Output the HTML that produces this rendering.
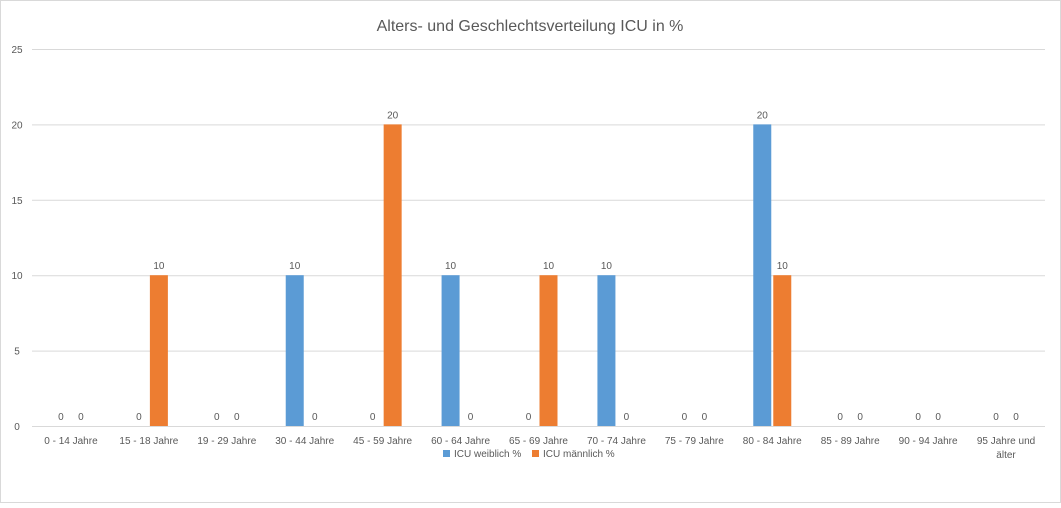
<!DOCTYPE html>
<html><head><meta charset="utf-8"><style>
body{margin:0;background:#fff}
svg text{font-family:"Liberation Sans",sans-serif;fill:#595959}
</style></head><body>
<svg width="1061" height="503">
<rect x="0.5" y="0.5" width="1060" height="502" fill="#fff" stroke="#d9d9d9"/>
<text x="530" y="31" text-anchor="middle" font-size="16">Alters- und Geschlechtsverteilung ICU in %</text>
<g id="grid"></g><g id="bars"></g><g id="labels"></g>
<g>
<rect x="443" y="450" width="7" height="7" fill="#5b9bd5"/>
<text x="454" y="457" font-size="10">ICU weiblich %</text>
<rect x="532" y="450" width="7" height="7" fill="#ed7d31"/>
<text x="543" y="457" font-size="10">ICU männlich %</text>
</g>
</svg>
<script>
const categories=["0 - 14 Jahre","15 - 18 Jahre","19 - 29 Jahre","30 - 44 Jahre","45 - 59 Jahre","60 - 64 Jahre","65 - 69 Jahre","70 - 74 Jahre","75 - 79 Jahre","80 - 84 Jahre","85 - 89 Jahre","90 - 94 Jahre","95 Jahre und|älter"];
const weiblich=[0,0,0,10,0,10,0,10,0,20,0,0,0];
const maennlich=[0,10,0,0,20,0,10,0,0,10,0,0,0];
const yTicks=[0,5,10,15,20,25];
const NS="http://www.w3.org/2000/svg";
const x0=32,x1=1045,y0=426,y25=49,step=(x1-x0)/categories.length;
const y=v=>y0-(y0-y25)*v/25;
const cx=i=>x0+step*(i+0.5);
function mk(t,a,p){const e=document.createElementNS(NS,t);for(const k in a)e.setAttribute(k,a[k]);p.appendChild(e);return e;}
const g=document.getElementById('grid'),b=document.getElementById('bars'),l=document.getElementById('labels');
yTicks.forEach(v=>{
 const ln=mk('line',{x1:x0,x2:x1,y1:y(v)+0.5,y2:y(v)+0.5,stroke:'#d9d9d9'},g);
 
 
 const t=mk('text',{x:17,y:y(v)+4,'text-anchor':'middle','font-size':'10'},g);t.textContent=v;
 
 
});
categories.forEach((c,i)=>{
 const parts=c.split('|');
 parts.forEach((p,j)=>{
  const t=mk('text',{x:cx(i),y:444+j*14,'text-anchor':'middle','font-size':'10'},l);t.textContent=p;
  
  
 });
 [[weiblich,'#5b9bd5',-19,'weiblich'],[maennlich,'#ed7d31',1,'maennlich']].forEach(([arr,col,off,nm])=>{
  const v=arr[i];
  const r=mk('rect',{x:cx(i)+off,y:y(v),width:18,height:y0-y(v),fill:col},b);
  
  
  const t=mk('text',{x:cx(i)+off+9,y:y(v)-6,'text-anchor':'middle','font-size':'10',fill:'#404040'},l);t.textContent=v;
  
  
 });
});
</script>
</body></html>
